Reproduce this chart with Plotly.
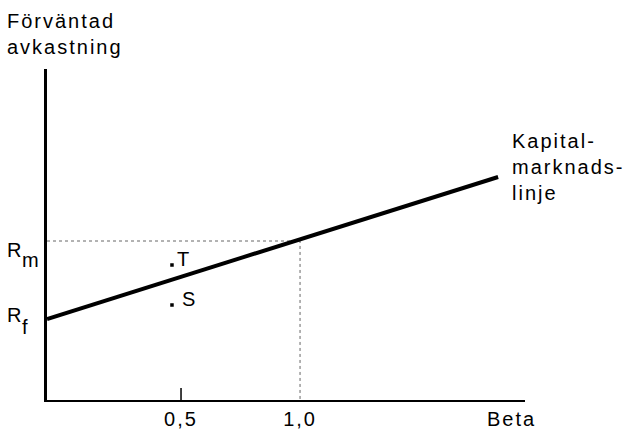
import plotly.graph_objects as go

# ---- data (schematic CAPM / Kapitalmarknadslinje) ----
beta_tick_vals = [0.5, 1.0]
beta_tick_text = ["0,5", "1,0"]
rf = 4.05
rm = 7.95
line_beta = [-0.063, 1.832]
line_ret = [4.05, 11.15]
point_names = ["T", "S"]
point_beta = [0.462, 0.462]
point_ret = [6.75, 4.75]
x_range = [-0.063, 1.945]
y_range = [0, 16.55]

FONT = "Liberation Sans, Arial, sans-serif"
FS = 20
W, H = 629, 430
L, R, T, B = 47, 104, 69, 30
PW, PH = W - L - R, H - T - B


def sp(t):
    return '<span style="letter-spacing:2px">' + t + '</span>'


def px(x):
    return (x - L) / PW


def py(y):
    return (H - B - y) / PH


fig = go.Figure()

# dotted guide lines to market point (beta = 1, Rm)
fig.add_trace(go.Scatter(
    x=[x_range[0], beta_tick_vals[1], beta_tick_vals[1]],
    y=[rm, rm, y_range[0]],
    mode="lines", line=dict(color="#666666", width=1, dash="dot"),
    hoverinfo="skip", showlegend=False, cliponaxis=False))

# capital market line
fig.add_trace(go.Scatter(
    x=line_beta, y=line_ret, mode="lines",
    line=dict(color="black", width=4),
    hoverinfo="skip", showlegend=False, cliponaxis=False))

# points T and S
fig.add_trace(go.Scatter(
    x=point_beta, y=point_ret, mode="markers",
    marker=dict(color="black", size=3.5, symbol="square"),
    hoverinfo="skip", showlegend=False))

ann = []
for name, bx, by, dx in zip(point_names, point_beta, point_ret, [3, 8]):
    ann.append(dict(x=bx, y=by, xref="x", yref="y", text=sp(name),
                    xanchor="left", yanchor="middle", xshift=dx, yshift=6,
                    showarrow=False))

ann += [
    dict(x=px(5), y=py(33.5), xref="paper", yref="paper",
         text=sp("Förväntad") + "<br>" + sp("avkastning"),
         xanchor="left", yanchor="middle", align="left", showarrow=False),
    dict(x=px(510), y=py(167), xref="paper", yref="paper",
         text=sp("Kapital-") + "<br>" + sp("marknads-") + "<br>" + sp("linje"),
         xanchor="left", yanchor="middle", align="left", showarrow=False),
    dict(x=px(485), y=py(419.5), xref="paper", yref="paper", text=sp("Beta"),
         xanchor="left", yanchor="middle", showarrow=False),
    dict(x=px(5), y=py(250), xref="paper", yref="paper", text="R",
         xanchor="left", yanchor="middle", showarrow=False),
    dict(x=px(20), y=py(260), xref="paper", yref="paper", text="m",
         xanchor="left", yanchor="middle", showarrow=False),
    dict(x=px(5), y=py(315), xref="paper", yref="paper", text="R",
         xanchor="left", yanchor="middle", showarrow=False),
    dict(x=px(20), y=py(327), xref="paper", yref="paper", text="f",
         xanchor="left", yanchor="middle", showarrow=False),
]

fig.update_layout(
    width=W, height=H,
    margin=dict(l=L, r=R, t=T, b=B, pad=0, autoexpand=False),
    paper_bgcolor="white", plot_bgcolor="white",
    font=dict(family=FONT, size=FS, color="black"),
    annotations=ann,
    shapes=[dict(type="line", xref="x", yref="y", x0=beta_tick_vals[0], x1=beta_tick_vals[0],
                 ysizemode="pixel", yanchor=y_range[0], y0=0, y1=12,
                 line=dict(color="black", width=1.5))],
    xaxis=dict(range=x_range, showgrid=False, zeroline=False, showline=True,
               linecolor="black", linewidth=1.5, tickvals=beta_tick_vals,
               ticktext=[sp(t) for t in beta_tick_text], ticks="",
               ticklabelstandoff=0, fixedrange=True, automargin=False),
    yaxis=dict(range=y_range, showgrid=False, zeroline=False, showline=True,
               linecolor="black", linewidth=2.5, showticklabels=False, ticks="",
               fixedrange=True, automargin=False),
)

fig.write_html(
    "out.html",
    config={"displayModeBar": False},
    post_script="document.body.style.margin='0';document.body.style.overflow='hidden';",
)
